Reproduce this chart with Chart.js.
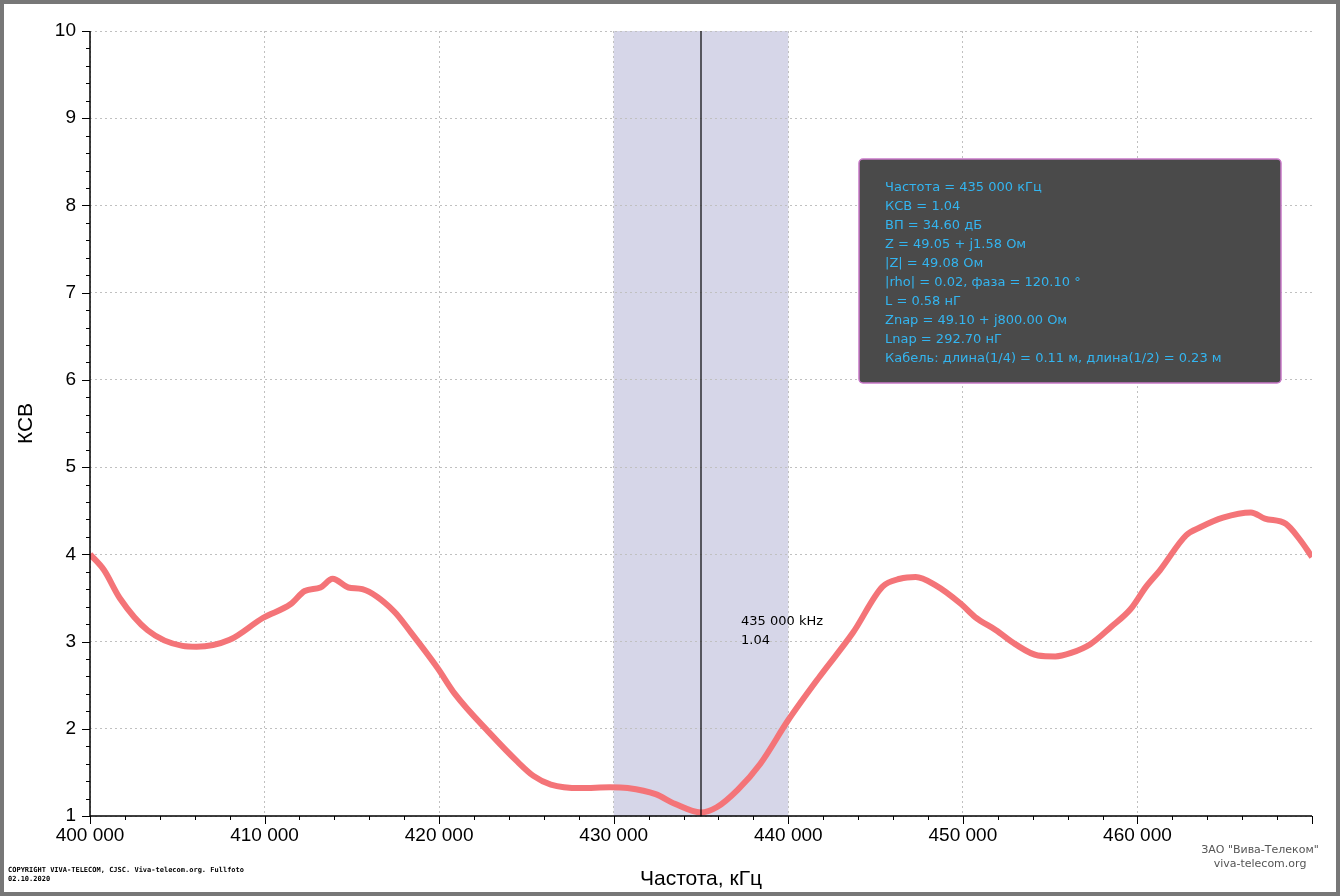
<!DOCTYPE html>
<html><head><meta charset="utf-8">
<script src="https://cdn.jsdelivr.net/npm/chart.js@4/dist/chart.umd.min.js"></script>
<style>html,body{margin:0;padding:0;background:#fff;}#w{width:1340px;height:896px;position:relative}</style>
</head><body><div id="w"><canvas id="c" width="1340" height="896"></canvas></div>
<script>
const freqs=[400000,400800,401700,403300,405300,406100,408000,409900,411500,412300,413200,413900,414800,415600,417400,418400,419900,420900,422900,424500,425400,426400,428100,429800,430800,432400,433500,435000,435900,437100,438400,440000,441800,443700,445400,446400,447300,448400,449900,450700,451900,453000,454300,455300,456200,457300,458500,459600,460500,461300,462800,463600,464900,466500,467300,468500,469300,470000];
const swr=[4.0,3.82,3.5,3.13,2.95,2.94,3.02,3.27,3.43,3.58,3.62,3.72,3.62,3.6,3.35,3.1,2.7,2.4,1.95,1.62,1.46,1.36,1.32,1.33,1.32,1.25,1.14,1.04,1.1,1.3,1.6,2.1,2.6,3.1,3.63,3.72,3.74,3.65,3.43,3.28,3.13,2.97,2.84,2.83,2.87,2.97,3.17,3.37,3.63,3.82,4.22,4.31,4.42,4.48,4.41,4.35,4.17,3.97];
const xTicks=[400000,410000,420000,430000,440000,450000,460000];
const band=[430000,440000];
const marker=435000, markerSwr=1.04;
const info=["Частота = 435 000 кГц","КСВ = 1.04","ВП = 34.60 дБ","Z = 49.05 + j1.58 Ом","|Z| = 49.08 Ом","|rho| = 0.02, фаза = 120.10 °","L = 0.58 нГ","Znap = 49.10 + j800.00 Ом","Lnap = 292.70 нГ","Кабель: длина(1/4) = 0.11 м, длина(1/2) = 0.23 м"];
const fmt=v=>String(v).replace(/\B(?=(\d{3})+(?!\d))/g,' ');
const plug={id:'p',
beforeDraw(ch){const c=ch.ctx,a=ch.chartArea,x=ch.scales.x;
 c.save();c.fillStyle='#fff';c.fillRect(0,0,1340,896);
 c.fillStyle='rgba(196,196,222,0.7)';const b0=x.getPixelForValue(band[0]),b1=x.getPixelForValue(band[1]);
 c.fillRect(b0,a.top,b1-b0,a.bottom-a.top);c.restore();},
afterDatasetsDraw(ch){const c=ch.ctx,a=ch.chartArea,x=ch.scales.x,y=ch.scales.y;c.save();
 const mx=x.getPixelForValue(marker);c.strokeStyle='#000';c.lineWidth=1.2;c.beginPath();c.moveTo(mx,a.top);c.lineTo(mx,a.bottom);c.stroke();
 c.fillStyle='#000';c.font='13px "DejaVu Sans"';c.fillText(fmt(marker)+' kHz',mx+40,625);c.fillText(String(markerSwr),mx+40,644);
 c.strokeStyle='#000';c.lineWidth=1;
 for(let v=1;v<=10.001;v+=0.2){const py=Math.round(y.getPixelForValue(v))+0.5;const major=Math.abs(v-Math.round(v))<1e-6;c.beginPath();c.moveTo(a.left-(major?8:4),py);c.lineTo(a.left,py);c.stroke();}
 for(let v=400000;v<=470000;v+=2000){const px=Math.round(x.getPixelForValue(v))+0.5;const major=v%10000===0;c.beginPath();c.moveTo(px,a.bottom);c.lineTo(px,a.bottom+(major?8:4));c.stroke();}
 c.lineWidth=1.5;c.beginPath();c.moveTo(a.left,a.top);c.lineTo(a.left,a.bottom);c.lineTo(a.right,a.bottom);c.stroke();
 c.fillStyle='#4a4a4a';c.strokeStyle='#c878c8';c.lineWidth=1.5;c.beginPath();c.roundRect(859,159,422,224,4);c.fill();c.stroke();
 c.fillStyle='#33b5f0';c.font='13px "DejaVu Sans"';info.forEach((t,i)=>c.fillText(t,885,191+i*19));
 c.fillStyle='#000';c.font='bold 7px "DejaVu Sans Mono"';c.fillText('COPYRIGHT VIVA-TELECOM, CJSC. Viva-telecom.org. Fullfoto',8,872);c.fillText('02.10.2020',8,881);
 c.fillStyle='#555';c.font='11px "DejaVu Sans"';c.textAlign='center';c.fillText('ЗАО "Вива-Телеком"',1260,853);c.fillText('viva-telecom.org',1260,867);
 c.strokeStyle='#777';c.lineWidth=4;c.strokeRect(2,2,1336,892);c.lineWidth=1;c.strokeStyle='#fff';c.strokeRect(5,5,1330,886);
 c.restore();}};
new Chart(document.getElementById('c'),{type:'line',
data:{datasets:[{data:freqs.map((f,i)=>({x:f,y:swr[i]})),borderColor:'#f47478',borderWidth:6,pointRadius:0,tension:0.3,cubicInterpolationMode:'monotone'}]},
options:{responsive:false,animation:false,devicePixelRatio:1,
layout:{padding:{left:10,top:31,right:28,bottom:0}},
plugins:{legend:{display:false},tooltip:{enabled:false}},
scales:{
x:{type:'linear',min:400000,max:470000,afterBuildTicks:s=>{s.ticks=xTicks.map(v=>({value:v}));},
 afterFit:s=>{s.height=80;},
 grid:{color:'#c0c0c0',drawTicks:false},border:{display:false,dash:[2,3]},
 ticks:{color:'#000',font:{family:'"Liberation Sans"',size:19},padding:8,callback:v=>fmt(v),maxRotation:0},
 title:{display:true,text:'Частота, кГц',color:'#000',font:{family:'"Liberation Sans"',size:21},padding:{top:6}}},
y:{min:1,max:10,afterFit:s=>{s.width=80;},
 grid:{color:'#c0c0c0',drawTicks:false},border:{display:false,dash:[2,3]},
 ticks:{stepSize:1,color:'#000',font:{family:'"Liberation Sans"',size:19},padding:14},
 title:{display:true,text:'КСВ',color:'#000',font:{family:'"Liberation Sans"',size:21},padding:{bottom:4}}}}},
plugins:[plug]});
</script></body></html>
